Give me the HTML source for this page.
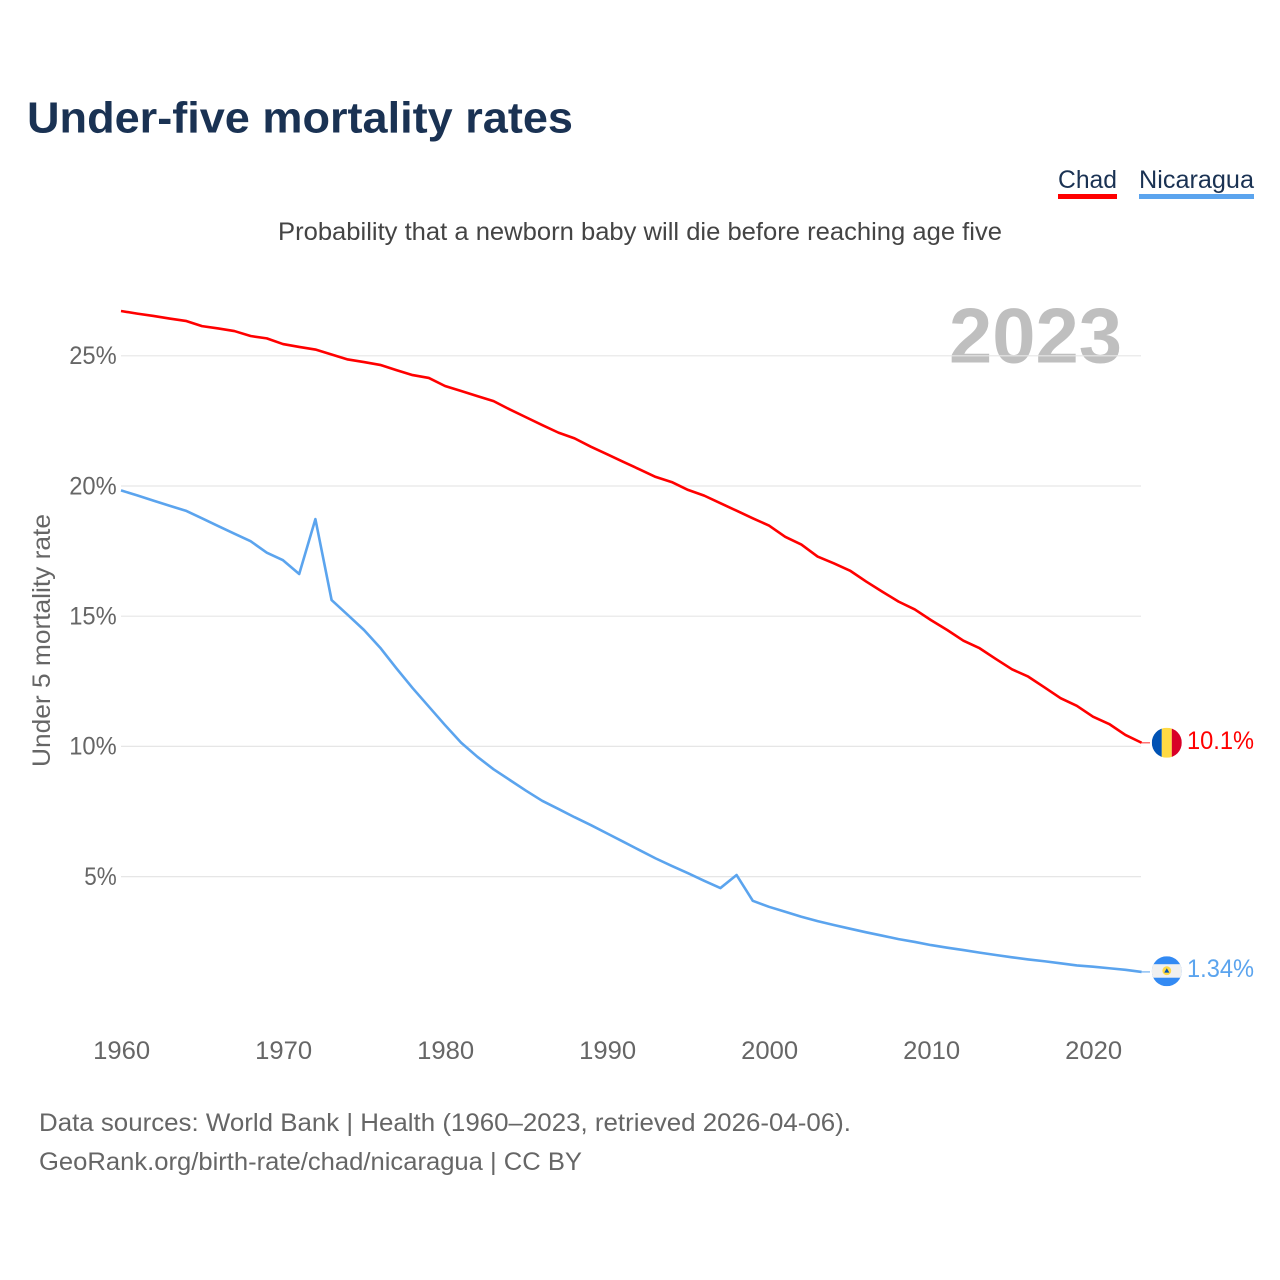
<!DOCTYPE html>
<html lang="en">
<head>
<meta charset="utf-8">
<title>Under-five mortality rates</title>
<style>
html,body{margin:0;padding:0;background:#fff;width:1280px;height:1280px;overflow:hidden}
svg{display:block;font-family:"Liberation Sans",Arial,sans-serif}
</style>
</head>
<body>
<svg id="chart" xmlns="http://www.w3.org/2000/svg" width="1280" height="1280" viewBox="0 0 1280 1280">
  <text x="27" y="132.5" font-size="44" font-weight="700" fill="#1a3253" textLength="546" lengthAdjust="spacingAndGlyphs">Under-five mortality rates</text>
  <text x="278" y="240" font-size="25" fill="#444" textLength="724" lengthAdjust="spacingAndGlyphs">Probability that a newborn baby will die before reaching age five</text>
  <g>
    <g>
      <text x="1058" y="188" font-size="25" fill="#1a3253" textLength="59" lengthAdjust="spacingAndGlyphs">Chad</text>
      <rect x="1058" y="194" width="59" height="5" fill="#ff0000"/>
    </g>
    <g>
      <text x="1139" y="188" font-size="25" fill="#1a3253" textLength="115" lengthAdjust="spacingAndGlyphs">Nicaragua</text>
      <rect x="1139" y="194" width="115" height="5" fill="#5ba4ee"/>
    </g>
  </g>
  <text x="949" y="362.5" font-size="78" font-weight="700" fill="#bfbfbf" textLength="173" lengthAdjust="spacingAndGlyphs">2023</text>
  <g id="grid"></g>
  <text transform="translate(50 767) rotate(-90)" x="0" y="0" font-size="25" fill="#666" textLength="253" lengthAdjust="spacingAndGlyphs">Under 5 mortality rate</text>
  <g id="yticks"></g>
  <g id="xticks"></g>
  <g id="series"></g>
  <g id="ends"></g>
  <text x="39" y="1131" font-size="25" fill="#666" textLength="812" lengthAdjust="spacingAndGlyphs">Data sources: World Bank | Health (1960–2023, retrieved 2026-04-06).</text>
  <text x="39" y="1170" font-size="25" fill="#666" textLength="543" lengthAdjust="spacingAndGlyphs">GeoRank.org/birth-rate/chad/nicaragua | CC BY</text>
</svg>
<script>
const years = [1960,1961,1962,1963,1964,1965,1966,1967,1968,1969,
  1970,1971,1972,1973,1974,1975,1976,1977,1978,1979,
  1980,1981,1982,1983,1984,1985,1986,1987,1988,1989,
  1990,1991,1992,1993,1994,1995,1996,1997,1998,1999,
  2000,2001,2002,2003,2004,2005,2006,2007,2008,2009,
  2010,2011,2012,2013,2014,2015,2016,2017,2018,2019,
  2020,2021,2022,2023];
const chadValues = [26.72,26.62,26.53,26.43,26.34,26.14,26.05,25.95,25.76,25.67,
  25.45,25.34,25.24,25.05,24.86,24.76,24.65,24.45,24.26,24.15,
  23.84,23.65,23.45,23.26,22.94,22.64,22.34,22.05,21.83,21.51,
  21.22,20.93,20.64,20.35,20.15,19.85,19.63,19.34,19.05,18.76,
  18.48,18.05,17.75,17.29,17.03,16.75,16.33,15.94,15.56,15.26,
  14.85,14.47,14.06,13.77,13.36,12.96,12.68,12.27,11.85,11.56,
  11.14,10.86,10.44,10.14];
const nicaraguaValues = [19.83,19.64,19.44,19.24,19.05,18.76,18.46,18.17,17.88,17.44,
  17.15,16.62,18.73,15.62,15.05,14.47,13.79,13.0,12.24,11.53,
  10.82,10.14,9.6,9.12,8.71,8.3,7.91,7.6,7.28,6.98,
  6.66,6.34,6.02,5.7,5.41,5.13,4.84,4.56,5.06,4.07,
  3.84,3.65,3.46,3.29,3.14,3.0,2.86,2.73,2.6,2.49,
  2.37,2.27,2.18,2.08,1.99,1.9,1.82,1.75,1.67,1.59,
  1.54,1.48,1.42,1.34];
const yTickValues = [5,10,15,20,25];
const yTickLabels = ["5%","10%","15%","20%","25%"];
const xTickValues = [1960,1970,1980,1990,2000,2010,2020];
const xTickLabels = ["1960","1970","1980","1990","2000","2010","2020"];
const endLabelChad = "10.1%";
const endLabelNicaragua = "1.34%";

const NS = "http://www.w3.org/2000/svg";
const xScale = function (year) { return 121 + (year - 1960) * (1141.6 - 121) / 63; };
const yScale = function (value) { return 1006.8 - value * 26.04; };
const make = function (tag, parent) {
  const node = document.createElementNS(NS, tag);
  parent.appendChild(node);
  return node;
};

const grid = document.getElementById("grid");
const yticks = document.getElementById("yticks");
const xticks = document.getElementById("xticks");
const series = document.getElementById("series");
const ends = document.getElementById("ends");

yTickValues.forEach(function (value, i) {
  const line = make("line", grid);
  
  
  line.setAttribute("x1", 121);
  line.setAttribute("x2", 1141);
  line.setAttribute("y1", yScale(value));
  line.setAttribute("y2", yScale(value));
  line.setAttribute("stroke", "#e6e6e6");
  line.setAttribute("stroke-width", "1.2");
  const label = make("text", yticks);
  
  
  label.setAttribute("x", 116.7);
  label.setAttribute("y", yScale(value) + 8.3);
  label.setAttribute("text-anchor", "end");
  label.setAttribute("font-size", "25");
  label.setAttribute("fill", "#666");
  label.setAttribute("textLength", String(15 * yTickLabels[i].length + 2.5));
  label.setAttribute("lengthAdjust", "spacingAndGlyphs");
  label.textContent = yTickLabels[i];
});

xTickValues.forEach(function (year, i) {
  const label = make("text", xticks);
  
  
  label.setAttribute("x", xScale(year) + 0.7);
  label.setAttribute("y", 1059);
  label.setAttribute("text-anchor", "middle");
  label.setAttribute("font-size", "25");
  label.setAttribute("fill", "#666");
  label.setAttribute("textLength", "57");
  label.setAttribute("lengthAdjust", "spacingAndGlyphs");
  label.textContent = xTickLabels[i];
});

const toPoints = function (values) {
  return values.map(function (value, i) {
    return xScale(years[i]).toFixed(2) + "," + yScale(value).toFixed(2);
  }).join(" ");
};

const chadLine = make("polyline", series);


chadLine.setAttribute("points", toPoints(chadValues));
chadLine.setAttribute("fill", "none");
chadLine.setAttribute("stroke", "#ff0000");
chadLine.setAttribute("stroke-width", "2.6");
chadLine.setAttribute("stroke-linejoin", "round");

const nicaraguaLine = make("polyline", series);


nicaraguaLine.setAttribute("points", toPoints(nicaraguaValues));
nicaraguaLine.setAttribute("fill", "none");
nicaraguaLine.setAttribute("stroke", "#5ba4ee");
nicaraguaLine.setAttribute("stroke-width", "2.6");
nicaraguaLine.setAttribute("stroke-linejoin", "round");

const lastYear = years[years.length - 1];
const flagX = 1166.8;

/* Chad end marker */
const chadY = yScale(chadValues[chadValues.length - 1]);
const chadConnector = make("line", ends);


chadConnector.setAttribute("x1", xScale(lastYear));
chadConnector.setAttribute("x2", 1150);
chadConnector.setAttribute("y1", chadY);
chadConnector.setAttribute("y2", chadY);
chadConnector.setAttribute("stroke", "#ff0000");
chadConnector.setAttribute("stroke-opacity", "0.55");
chadConnector.setAttribute("stroke-width", "1.5");

const chadClip = make("clipPath", ends);
chadClip.setAttribute("id", "clip-chad");
const chadClipCircle = make("circle", chadClip);
chadClipCircle.setAttribute("cx", 0);
chadClipCircle.setAttribute("cy", 0);
chadClipCircle.setAttribute("r", 15);

const chadFlag = make("g", ends);


chadFlag.setAttribute("transform", "translate(" + flagX + " " + chadY + ")");
const chadFlagInner = make("g", chadFlag);
chadFlagInner.setAttribute("clip-path", "url(#clip-chad)");
const chadBlue = make("rect", chadFlagInner);
chadBlue.setAttribute("x", -15); chadBlue.setAttribute("y", -15);
chadBlue.setAttribute("width", 10); chadBlue.setAttribute("height", 30);
chadBlue.setAttribute("fill", "#0052b4");
const chadYellow = make("rect", chadFlagInner);
chadYellow.setAttribute("x", -5); chadYellow.setAttribute("y", -15);
chadYellow.setAttribute("width", 10); chadYellow.setAttribute("height", 30);
chadYellow.setAttribute("fill", "#ffda44");
const chadRed = make("rect", chadFlagInner);
chadRed.setAttribute("x", 5); chadRed.setAttribute("y", -15);
chadRed.setAttribute("width", 10); chadRed.setAttribute("height", 30);
chadRed.setAttribute("fill", "#d80027");

const chadLabel = make("text", ends);


chadLabel.setAttribute("x", 1187);
chadLabel.setAttribute("y", chadY + 6.3);
chadLabel.setAttribute("font-size", "25");
chadLabel.setAttribute("fill", "#ff0000");
chadLabel.setAttribute("textLength", "67");
chadLabel.setAttribute("lengthAdjust", "spacingAndGlyphs");
chadLabel.textContent = endLabelChad;

/* Nicaragua end marker */
const nicY = yScale(nicaraguaValues[nicaraguaValues.length - 1]);
const nicConnector = make("line", ends);


nicConnector.setAttribute("x1", xScale(lastYear));
nicConnector.setAttribute("x2", 1150);
nicConnector.setAttribute("y1", nicY);
nicConnector.setAttribute("y2", nicY);
nicConnector.setAttribute("stroke", "#5ba4ee");
nicConnector.setAttribute("stroke-opacity", "0.7");
nicConnector.setAttribute("stroke-width", "1.5");

const nicClip = make("clipPath", ends);
nicClip.setAttribute("id", "clip-nicaragua");
const nicClipCircle = make("circle", nicClip);
nicClipCircle.setAttribute("cx", 0);
nicClipCircle.setAttribute("cy", 0);
nicClipCircle.setAttribute("r", 15);

const nicFlag = make("g", ends);


nicFlag.setAttribute("transform", "translate(" + flagX + " " + (nicY - 0.7) + ")");
const nicFlagInner = make("g", nicFlag);
nicFlagInner.setAttribute("clip-path", "url(#clip-nicaragua)");
const nicBack = make("rect", nicFlagInner);
nicBack.setAttribute("x", -15); nicBack.setAttribute("y", -15);
nicBack.setAttribute("width", 30); nicBack.setAttribute("height", 30);
nicBack.setAttribute("fill", "#338af3");
const nicWhite = make("rect", nicFlagInner);
nicWhite.setAttribute("x", -15); nicWhite.setAttribute("y", -7);
nicWhite.setAttribute("width", 30); nicWhite.setAttribute("height", 13.5);
nicWhite.setAttribute("fill", "#f0f0f0");
const nicEmblem = make("circle", nicFlagInner);
nicEmblem.setAttribute("cx", 0); nicEmblem.setAttribute("cy", -0.5);
nicEmblem.setAttribute("r", 4.4);
nicEmblem.setAttribute("fill", "#ffda44");
const nicTriangle = make("polygon", nicFlagInner);
nicTriangle.setAttribute("points", "0,-3 2.6,1.4 -2.6,1.4");
nicTriangle.setAttribute("fill", "#0052b4");

const nicLabel = make("text", ends);


nicLabel.setAttribute("x", 1187);
nicLabel.setAttribute("y", nicY + 5.3);
nicLabel.setAttribute("font-size", "25");
nicLabel.setAttribute("fill", "#5ba4ee");
nicLabel.setAttribute("textLength", "67");
nicLabel.setAttribute("lengthAdjust", "spacingAndGlyphs");
nicLabel.textContent = endLabelNicaragua;
</script>
</body>
</html>
